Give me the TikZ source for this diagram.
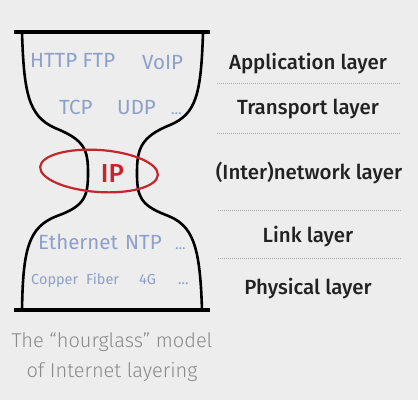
\documentclass[tikz,border=0pt]{standalone}
\usepackage{fontspec}
\setmainfont{Fira Sans}
\newfontfamily\medfont{Fira Sans Medium}
\newfontfamily\lightfont{Fira Sans Light}
\begin{document}
\begin{tikzpicture}[x=1pt,y=-1pt,
  proto/.style={text=protoblue,font=\fontsize{20.5}{22}\selectfont,inner sep=0pt,anchor=base west},
  phys/.style={text=protoblue,font=\fontsize{14.5}{16}\selectfont,inner sep=0pt,anchor=base west},
  layer/.style={text=labeldark,font=\medfont\fontsize{20.5}{23}\selectfont,inner sep=0pt,anchor=base},
  captext/.style={text=capgrey,font=\lightfont\fontsize{20}{23}\selectfont,inner sep=0pt,anchor=base},
  sep/.style={draw=sepgrey,dash pattern=on 0.8pt off 1.2pt,line width=0.8pt},
  glass/.style={draw=black,line width=2.6pt},
  bar/.style={draw=black,line width=4.5pt}]
\definecolor{bg}{HTML}{EDEDED}
\definecolor{protoblue}{HTML}{8DA0C9}
\definecolor{labeldark}{HTML}{222222}
\definecolor{sepgrey}{HTML}{A8A8A8}
\definecolor{ipred}{HTML}{C1272D}
\definecolor{capgrey}{HTML}{8A8A8A}
\fill[bg] (0,0) rectangle (418,400);
\useasboundingbox (0,0) rectangle (418,400);
% hourglass
\coordinate (lt) at (22,33);
\coordinate (lb) at (22,310);
\coordinate (rt) at (203,33);
\coordinate (rb) at (202,310);
\draw[glass] (lt) .. controls (24,92) and (28,116) .. (55,128) .. controls (85,140) and (88,150) .. (88,173) .. controls (88,196) and (85,206) .. (57,216) .. controls (28,227) and (23,250) .. (lb);
\draw[glass] (rt) .. controls (201,95) and (196,114) .. (170,125) .. controls (140,137) and (137,150) .. (137,173) .. controls (137,196) and (140,205) .. (166,215) .. controls (193,225) and (200,245) .. (rb);
\coordinate (tbl) at (14,32); \coordinate (tbr) at (210,32);
\coordinate (bbl) at (14,310); \coordinate (bbr) at (210,310);
\draw[bar] (tbl) -- (tbr);
\draw[bar] (bbl) -- (bbr);
% protocols
\node[proto] (http) at (30,67) {HTTP FTP};
\node[proto] (voip) at (142,69) {VoIP};
\node[proto] (tcp) at (59,114) {TCP};
\node[proto] (udp) at (117,114) {UDP};
\node[phys] (dots1) at (171,114) {...};
\node[text=ipred,font=\medfont\fontsize{26}{28}\selectfont,inner sep=0pt,anchor=base] (ip) at (112.5,182) {IP};
\draw[ipred,line width=2.2pt,rotate around={-4:(99,171)}] (99,171) ellipse [x radius=59,y radius=21];
\node[proto] (eth) at (38,249) {Ethernet};
\node[proto] (ntp) at (125,249) {NTP};
\node[phys] (dots2) at (175,249) {...};
\node[phys] (copper) at (31,284) {Copper};
\node[phys] (fiber) at (86,284) {Fiber};
\node[phys] (fourg) at (139,284) {4G};
\node[phys] (dots3) at (178,284) {...};
% caption
\node[captext] (cap1) at (112,347) {The “hourglass” model};
\node[captext] (cap2) at (112,377) {of Internet layering};
% layers
\node[layer] (app) at (308,69) {Application layer};
\coordinate (s1a) at (217,83); \coordinate (s1b) at (400,83);
\draw[sep] (s1a) -- (s1b);
\node[layer] (trans) at (308,114) {Transport layer};
\coordinate (s2a) at (217,133); \coordinate (s2b) at (400,133);
\draw[sep] (s2a) -- (s2b);
\node[layer] (net) at (309,179) {(Inter)network layer};
\coordinate (s3a) at (218,210); \coordinate (s3b) at (402,210);
\draw[sep] (s3a) -- (s3b);
\node[layer] (link) at (308,242) {Link layer};
\coordinate (s4a) at (218,258); \coordinate (s4b) at (402,258);
\draw[sep] (s4a) -- (s4b);
\node[layer] (phy) at (308,294) {Physical layer};
\end{tikzpicture}
\end{document}
